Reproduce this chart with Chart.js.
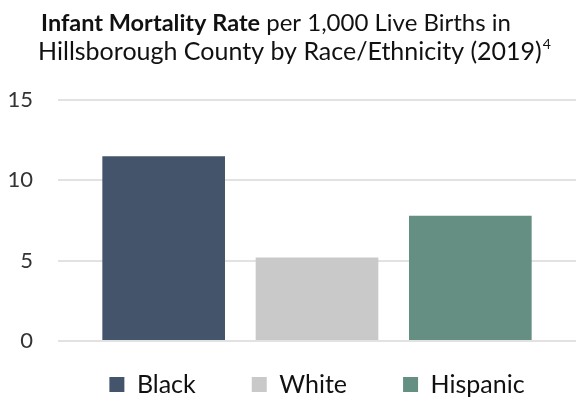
<!DOCTYPE html>
<html>
<head>
<meta charset="utf-8">
<script src="https://cdn.jsdelivr.net/npm/chart.js@4"></script>
<style>
  html, body { margin: 0; padding: 0; background: #fff; }
  #wrap { width: 576px; height: 400px; }
</style>
</head>
<body>
<div id="wrap"><canvas id="chart" width="576" height="400"></canvas></div>
<script>
// chart data
const groups = ["Black", "White", "Hispanic"];
const rates = [11.5, 5.2, 7.8];
const barColors = ["#44546A", "#C9C9C9", "#658F82"];
const yTicks = [0, 5, 10, 15];
const titleBold = "Infant Mortality Rate";
const titleRest = " per 1,000 Live Births in";
const titleLine2 = "Hillsborough County by Race/Ethnicity (2019)";
const titleSup = "4";

const FONT = "Lato, sans-serif";

// draws the two-line title with a bold run and a superscript
const titlePlugin = {
    id: "mixedTitle",
    afterDraw(chart) {
        const ctx = chart.ctx;
        ctx.save();
        ctx.fillStyle = "#111";
        ctx.textBaseline = "alphabetic";
        ctx.textAlign = "left";

        ctx.font = `bold 23.5px ${FONT}`;
        const w1 = ctx.measureText(titleBold).width;
        ctx.font = `24px ${FONT}`;
        const w2 = ctx.measureText(titleRest).width;
        let x = 276 - (w1 + w2) / 2;
        ctx.font = `bold 23.5px ${FONT}`;
        ctx.fillText(titleBold, x, 31);
        ctx.font = `24px ${FONT}`;
        ctx.fillText(titleRest, x + w1, 31);

        ctx.font = `25px ${FONT}`;
        const w3 = ctx.measureText(titleLine2).width;
        ctx.font = `14px ${FONT}`;
        const w4 = ctx.measureText(titleSup).width;
        x = 294 - (w3 + w4) / 2;
        ctx.font = `25px ${FONT}`;
        ctx.fillText(titleLine2, x, 60);
        ctx.font = `14px ${FONT}`;
        ctx.fillText(titleSup, x + w3 + 1, 49);
        ctx.restore();
    }
};

// legend: wide gaps between items but a short box under the plot,
// centred under the plot area rather than the whole canvas
const legendFit = {
    id: "legendFit",
    beforeLayout(chart) {
        const lg = chart.legend;
        if (lg && !lg._fitPatched) {
            const fit = lg.fit;
            lg.fit = function () {
                fit.call(this);
                this.height = 59;
            };
            lg._fitPatched = true;
        }
    },
    afterLayout(chart) {
        const lg = chart.legend;
        if (lg) {
            const area = chart.chartArea;
            const dx = (area.left + area.right) / 2 - (lg.left + lg.right) / 2;
            lg.left += dx;
            lg.right += dx;
            lg.top = 316;
        }
    }
};

new Chart(document.getElementById("chart"), {
    type: "bar",
    data: {
        labels: [""],
        datasets: groups.map((g, i) => ({
            label: g,
            data: [rates[i]],
            backgroundColor: barColors[i],
            borderWidth: 0
        }))
    },
    options: {
        responsive: false,
        animation: false,
        layout: { padding: { top: 100, right: 0, left: 0, bottom: 0 } },
        datasets: {
            bar: { categoryPercentage: 0.888, barPercentage: 0.8 }
        },
        scales: {
            x: { display: false },
            y: {
                min: 0,
                max: 15,
                afterBuildTicks(axis) {
                    axis.ticks = yTicks.map(v => ({ value: v }));
                },
                afterFit(axis) {
                    axis.width = 58;
                },
                border: { display: false },
                grid: { color: "#E2E2E2", lineWidth: 2, drawTicks: false },
                ticks: {
                    padding: 25,
                    color: "#333",
                    font: { family: FONT, size: 22 }
                }
            }
        },
        plugins: {
            title: { display: false },
            tooltip: { enabled: false },
            legend: {
                position: "bottom",
                labels: {
                    boxWidth: 15,
                    boxHeight: 15,
                    padding: 56,
                    color: "#111",
                    font: { family: FONT, size: 25 }
                }
            }
        }
    },
    plugins: [titlePlugin, legendFit]
});
</script>
</body>
</html>
